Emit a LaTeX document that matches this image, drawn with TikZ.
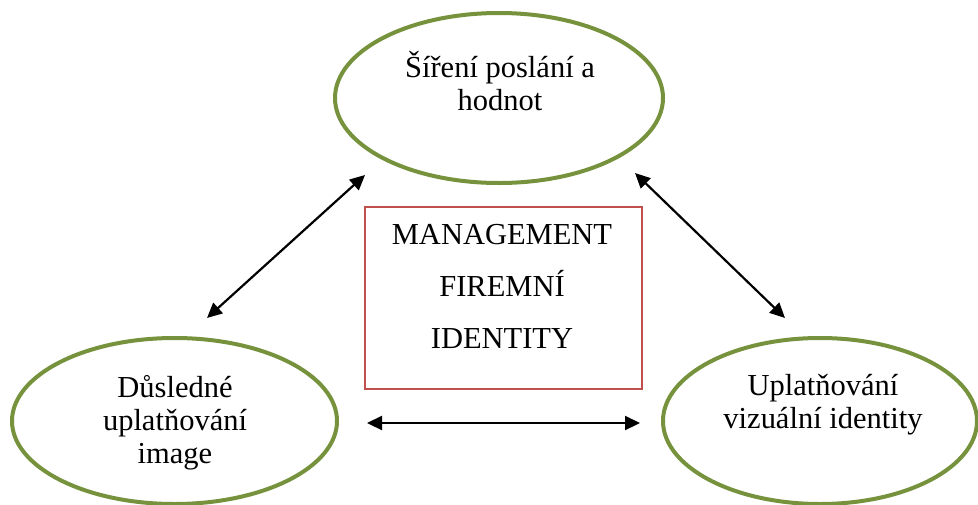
\documentclass[tikz,border=0pt]{standalone}
\usepackage{fontspec}
\setmainfont{Liberation Serif}
\usetikzlibrary{shapes.geometric,arrows.meta}

\definecolor{olivegreen}{RGB}{118,146,60}
\definecolor{boxred}{RGB}{192,80,77}

\tikzset{
  oval/.style={ellipse, draw=olivegreen, line width=4pt, inner sep=0pt},
  label txt/.style={align=center, inner sep=0pt, font=\fontsize{30.5}{33}\selectfont},
  box txt/.style={align=center, inner sep=0pt, font=\fontsize{30.5}{52}\selectfont},
  frame/.style={draw=boxred, line width=2pt, inner sep=0pt},
  link/.style={line width=2.2pt, {Triangle[length=15pt,width=14pt]}-{Triangle[length=15pt,width=14pt]}}
}

\begin{document}
\begin{tikzpicture}[x=1pt,y=-1pt]
  \useasboundingbox[fill=white] (0,0) rectangle (978,504);

  % three goals around the centre
  \node[oval, minimum width=328pt, minimum height=170pt] (top) at (499,98) {};
  \node[oval, minimum width=325pt, minimum height=166pt] (left) at (174.5,421) {};
  \node[oval, minimum width=314pt, minimum height=166pt] (right) at (820,421) {};

  \node[label txt] (toptxt) at (500,81) {Šíření poslání a\\hodnot};
  \node[label txt] (lefttxt) at (175,423) {Důsledné\\uplatňování\\image};
  \node[label txt] (righttxt) at (823,405) {Uplatňování\\vizuální identity};

  % central box
  \node[frame, minimum width=277pt, minimum height=182pt] (mgmt) at (503.5,298) {};
  \node[box txt] (mgmttxt) at (502,286) {MANAGEMENT\\FIREMNÍ\\IDENTITY};

  % arrow end points
  \coordinate (tl) at (365,175);
  \coordinate (lt) at (207,318);
  \coordinate (tr) at (635,173);
  \coordinate (rt) at (785,318);
  \coordinate (lr) at (367,423);
  \coordinate (rl) at (640,423);

  \draw[link] (tl) -- (lt);
  \draw[link] (tr) -- (rt);
  \draw[link] (lr) -- (rl);
\end{tikzpicture}
\end{document}
